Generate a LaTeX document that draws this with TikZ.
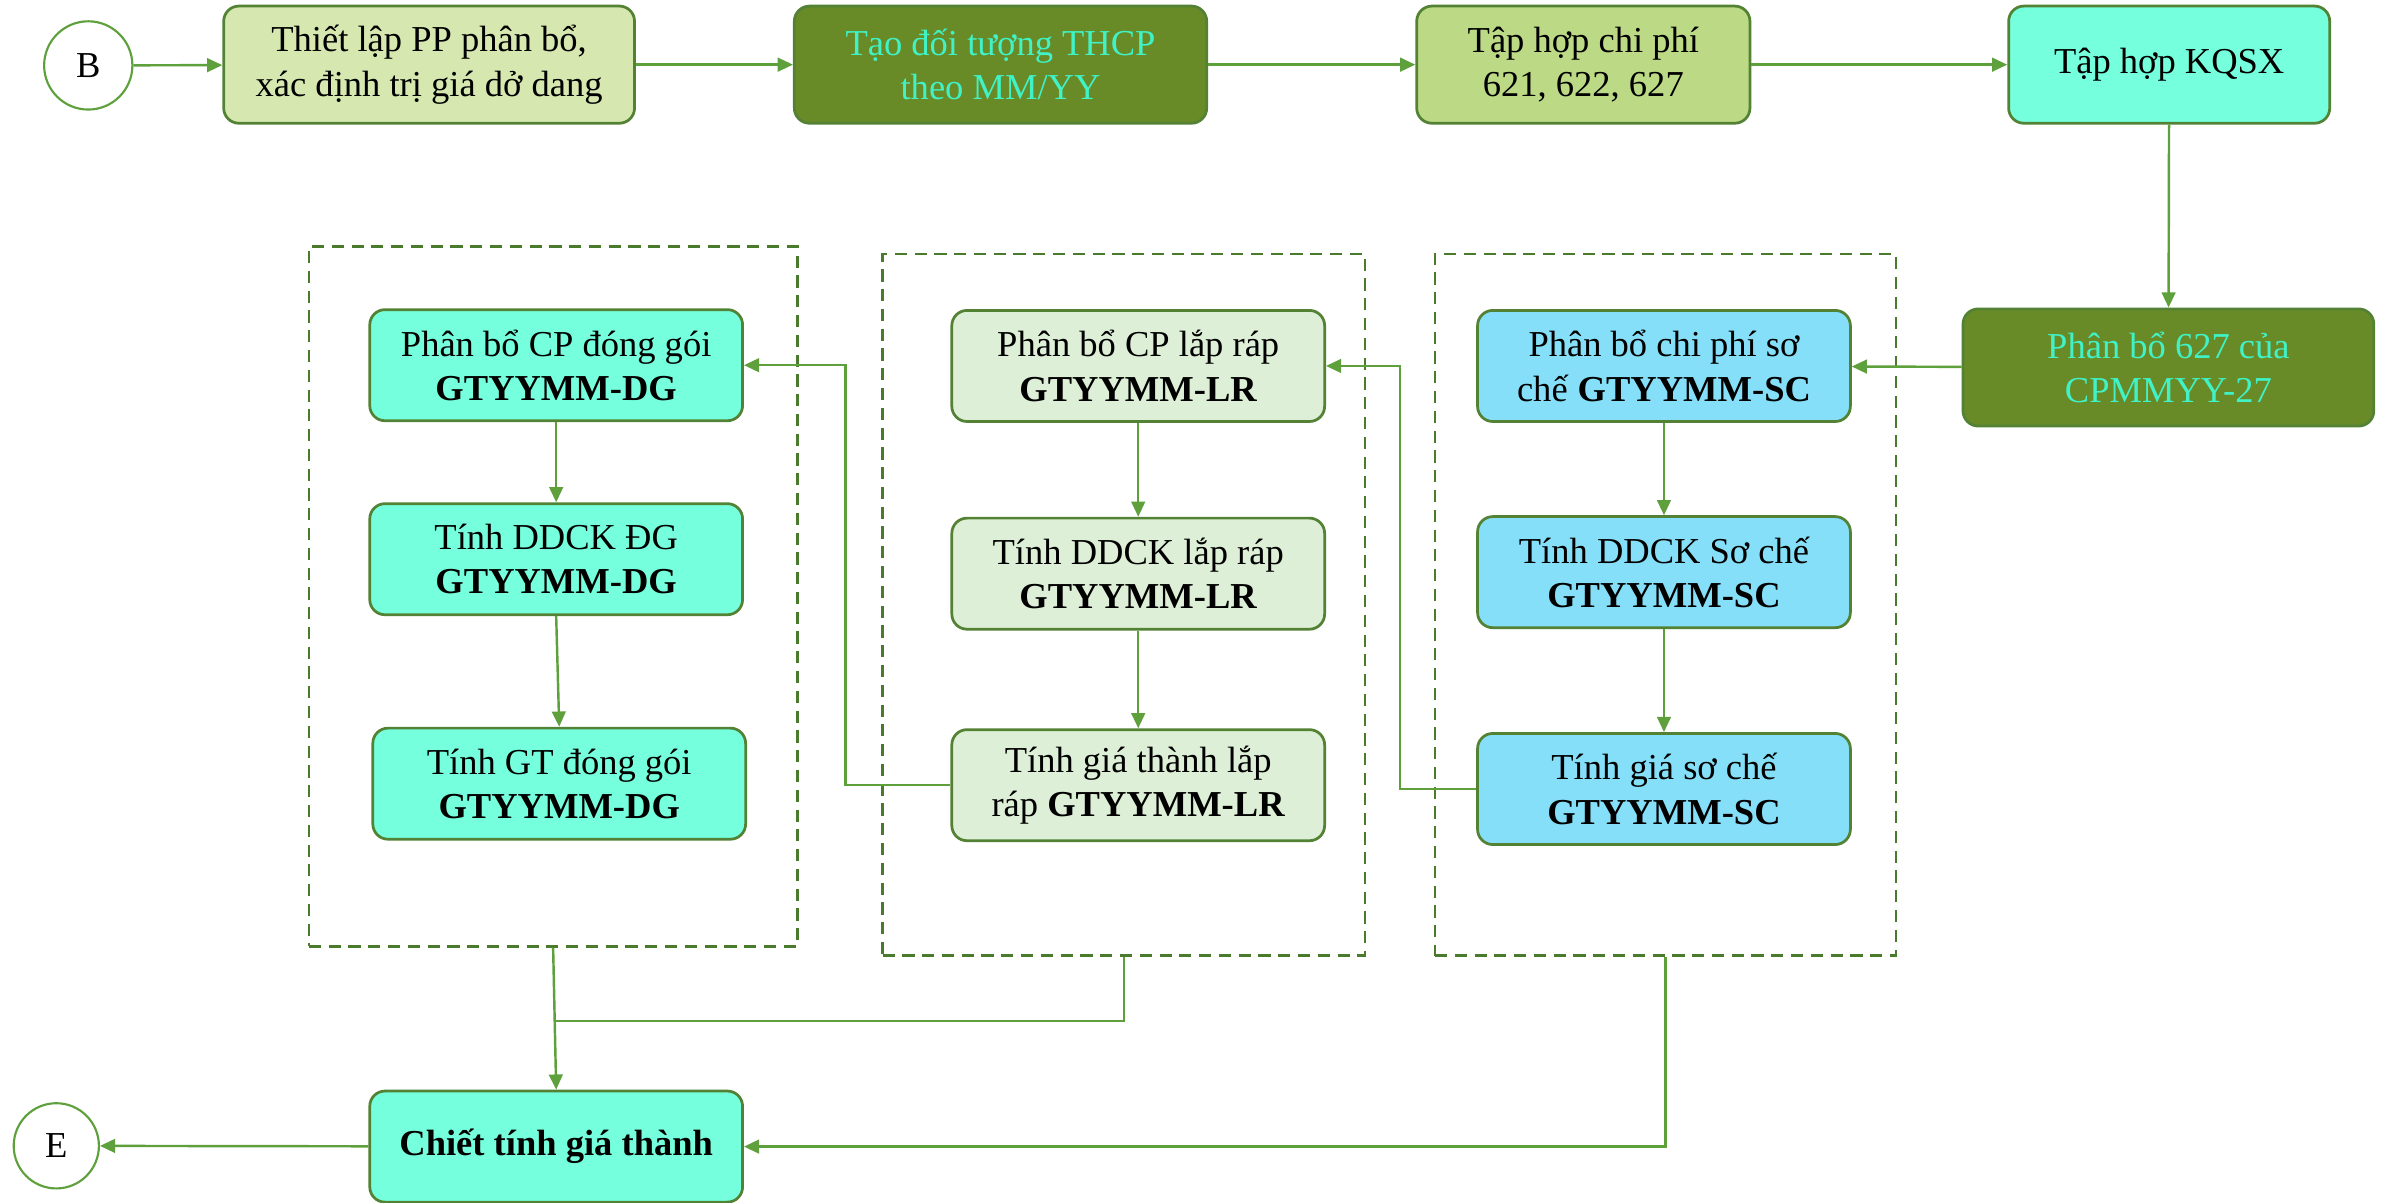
\documentclass[tikz,border=0pt]{standalone}
\usepackage{fontspec}
\setmainfont{Liberation Serif}
\usetikzlibrary{arrows.meta}
\definecolor{boxedge}{HTML}{548235}
\definecolor{arrowgreen}{HTML}{5EA03C}
\definecolor{dashgreen}{HTML}{4A7A2C}
\definecolor{lightlime}{HTML}{D6E8B0}
\definecolor{olive}{HTML}{688A27}
\definecolor{lime}{HTML}{BCD985}
\definecolor{aqua}{HTML}{75FFDD}
\definecolor{skyblue}{HTML}{86DFF8}
\definecolor{palegreen}{HTML}{DDEFD6}
\definecolor{tealtext}{HTML}{40F2C5}
\tikzset{
  procbox/.style={draw=boxedge, line width=0.9pt, rounded corners=5pt, align=center,
    minimum width=122.5pt, minimum height=36.5pt, inner sep=1pt,
    font=\fontsize{12}{14.5}\selectfont},
  topbox/.style={procbox, minimum height=38.5pt},
  endpoint/.style={draw=arrowgreen, line width=0.7pt, circle, minimum size=29pt, inner sep=0pt,
    font=\fontsize{12}{14.5}\selectfont},
  grpbox/.style={draw=dashgreen, line width=0.8pt, dash pattern=on 4pt off 2.5pt,
    minimum width=160pt, minimum height=230pt},
  conn/.style={draw=arrowgreen, line width=0.8pt},
  arr/.style={conn, -{Triangle[length=5pt,width=4.5pt]}}
}
\begin{document}
\begin{tikzpicture}[x=0.5pt,y=-0.5pt]
\useasboundingbox[fill=white] (0,0) rectangle (1568,790);
% Drawing top row
\node[endpoint] (B) at (58,43) {B};
\node[topbox, fill=lightlime, minimum width=135pt] (setup) at (282,42.5) {Thiết lập PP phân bổ,\\xác định trị giá dở dang};
\node[topbox, fill=olive, text=tealtext, minimum width=135.5pt] (thcp) at (657.5,42.5) {Tạo đối tượng THCP\\theo MM/YY};
\node[topbox, fill=lime, minimum width=109.5pt] (cost) at (1040.5,42.5) {Tập hợp chi phí\\621, 622, 627};
\node[topbox, fill=aqua, minimum width=105.5pt] (kqsx) at (1425.5,42.5) {Tập hợp KQSX};
\node[topbox, fill=olive, text=tealtext, minimum width=135pt] (alloc) at (1425,241.5) {Phân bổ 627 của\\CPMMYY-27};
% Drawing groups
\node[grpbox, minimum width=160.5pt] (gDG) at (363.5,392) {};
\node[grpbox, minimum width=158.5pt, minimum height=230.5pt] (gLR) at (738.5,397.5) {};
\node[grpbox, minimum width=151.5pt, minimum height=230.5pt] (gSC) at (1094.5,397.5) {};
% Group SC
\node[procbox, fill=skyblue] (sc1) at (1093.5,240.5) {Phân bổ chi phí sơ\\chế \textbf{GTYYMM-SC}};
\node[procbox, fill=skyblue] (sc2) at (1093.5,376) {Tính DDCK Sơ chế\\\textbf{GTYYMM-SC}};
\node[procbox, fill=skyblue] (sc3) at (1093.5,518.5) {Tính giá sơ chế\\\textbf{GTYYMM-SC}};
% Group LR
\node[procbox, fill=palegreen] (lr1) at (748,240.5) {Phân bổ CP lắp ráp\\\textbf{GTYYMM-LR}};
\node[procbox, fill=palegreen] (lr2) at (748,377) {Tính DDCK lắp ráp\\\textbf{GTYYMM-LR}};
\node[procbox, fill=palegreen] (lr3) at (748,516) {Tính giá thành lắp\\ráp \textbf{GTYYMM-LR}};
% Group DG
\node[procbox, fill=aqua] (dg1) at (365.5,240) {Phân bổ CP đóng gói\\\textbf{GTYYMM-DG}};
\node[procbox, fill=aqua] (dg2) at (365.5,367.5) {Tính DDCK ĐG\\\textbf{GTYYMM-DG}};
\node[procbox, fill=aqua] (dg3) at (367.5,515) {Tính GT đóng gói\\\textbf{GTYYMM-DG}};
% Bottom row
\node[procbox, fill=aqua] (total) at (365.5,753.5) {\textbf{Chiết tính giá thành}};
\node[endpoint, minimum size=28pt] (E) at (37,753) {E};
\coordinate (join) at (365,671);
% Done with boxes; drawing connectors
\draw[arr] (B) -- (setup);
\draw[arr] (setup) -- (thcp);
\draw[arr] (thcp) -- (cost);
\draw[arr] (cost) -- (kqsx);
\draw[arr] (kqsx) -- (alloc);
\draw[arr] (alloc) -- (sc1);
\draw[arr] (sc1) -- (sc2);
\draw[arr] (sc2) -- (sc3);
\draw[arr] (lr1) -- (lr2);
\draw[arr] (lr2) -- (lr3);
\draw[arr] (dg1) -- (dg2);
\draw[arr] (dg2.south) -- (dg3.north);
\draw[arr] (sc3.west) -- ++(-50,0) |- (lr1.east);
\draw[arr] (lr3.west) -- ++(-69,0) |- (dg1.east);
\draw[arr] (gDG.south) -- (total.north);
\draw[conn] (gLR.south) |- (join);
\draw[arr] (gSC.south) |- (total.east);
\draw[arr] (total) -- (E);
% Done with connectors
\end{tikzpicture}
\end{document}
